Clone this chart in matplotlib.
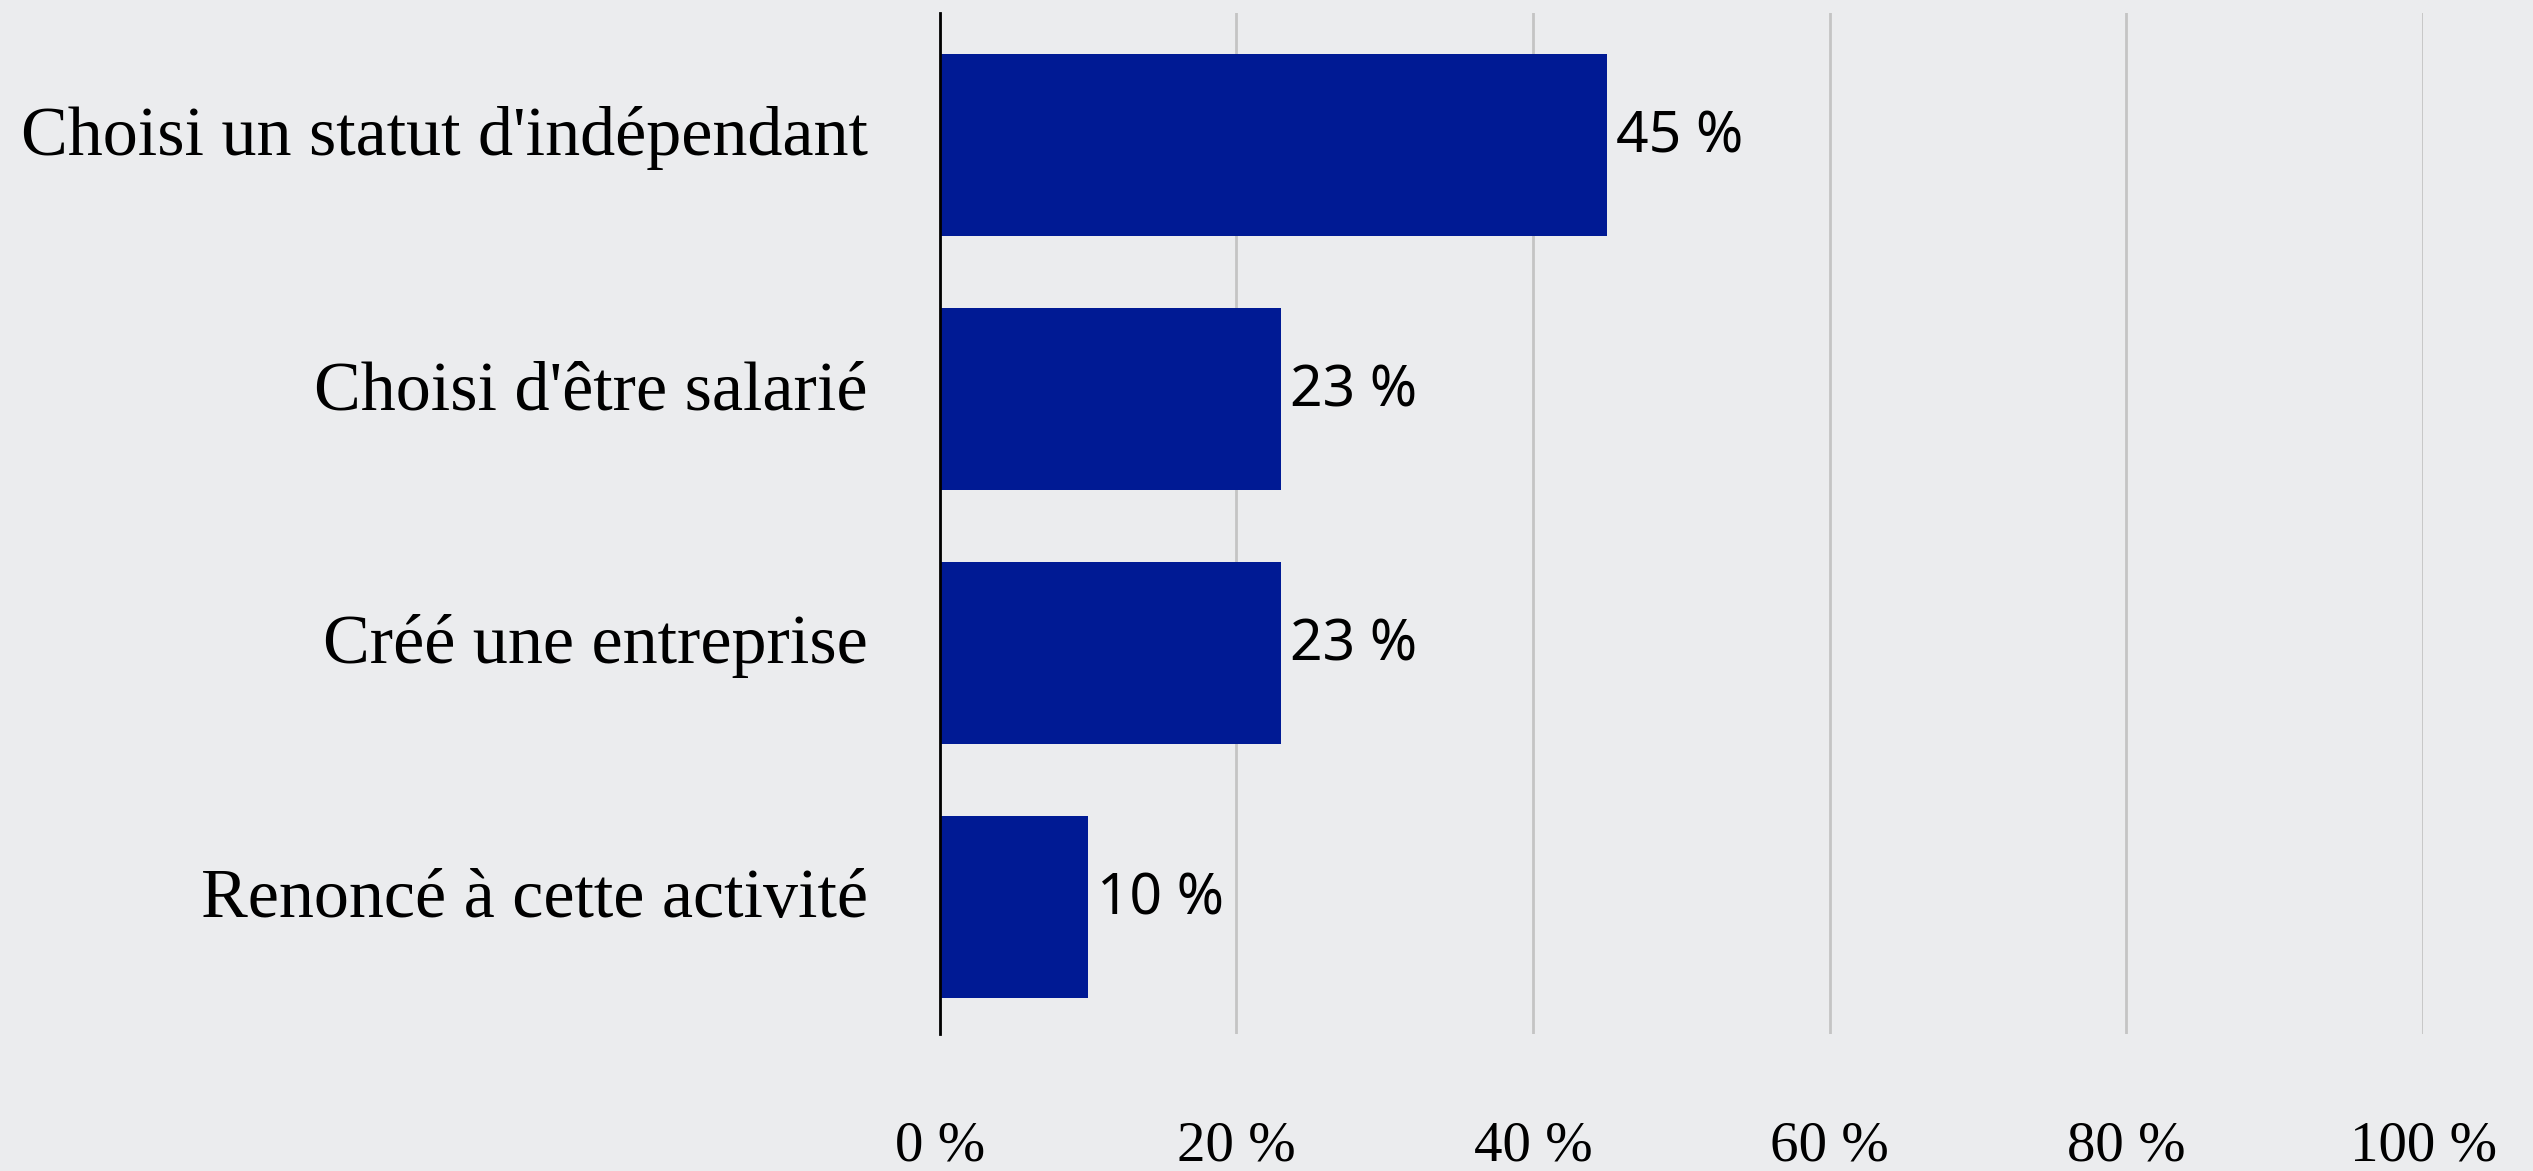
import matplotlib.pyplot as plt
from matplotlib.transforms import ScaledTranslation

categories = ["Renoncé à cette activité", "Créé une entreprise",
              "Choisi d'être salarié", "Choisi un statut d'indépendant"]
values = [10, 23, 23, 45]
ticks = [0, 20, 40, 60, 80, 100]
tick_labels = [f"{t} %" for t in ticks]

bg = '#EBECEE'
bar_color = '#001A94'

fig = plt.figure(figsize=(25.33, 11.71), dpi=100, facecolor=bg)
ax = fig.add_axes([0.371, 0.117, 0.5856, 0.872], facecolor=bg)

y = list(range(len(categories)))
ax.barh(y, values, height=0.72, color=bar_color, zorder=3)

lift = ScaledTranslation(0, 0.07, fig.dpi_scale_trans)
for yi, v in zip(y, values):
    ax.text(v + 0.6, yi, f"{v} %", va='center', ha='left',
            fontsize=41, family='Noto Sans', color='black', zorder=4,
            transform=ax.transData + lift)

ax.set_xlim(0, 100)
ax.set_ylim(-0.5, 3.52)
ax.set_xticks(ticks)
ax.set_xticklabels(tick_labels, family='Liberation Serif', fontsize=41)
ax.set_yticks(y)
ax.set_yticklabels(categories, family='Liberation Serif', fontsize=50.5)
ax.tick_params(axis='x', length=0, pad=62)
ax.tick_params(axis='y', length=0, pad=52)

# labels sit a bit above bar centres in the original
label_lift = ScaledTranslation(0, 0.14, fig.dpi_scale_trans)
for lab in ax.get_yticklabels():
    lab.set_transform(lab.get_transform() + label_lift)

ax.grid(axis='x', color='#C4C4C4', linewidth=2, zorder=0)
for s in ['top', 'right', 'bottom']:
    ax.spines[s].set_visible(False)
ax.spines['left'].set_color('black')
ax.spines['left'].set_linewidth(2)
ax.spines['left'].set_zorder(5)

fig.savefig('out.png', dpi=100, facecolor=bg)
